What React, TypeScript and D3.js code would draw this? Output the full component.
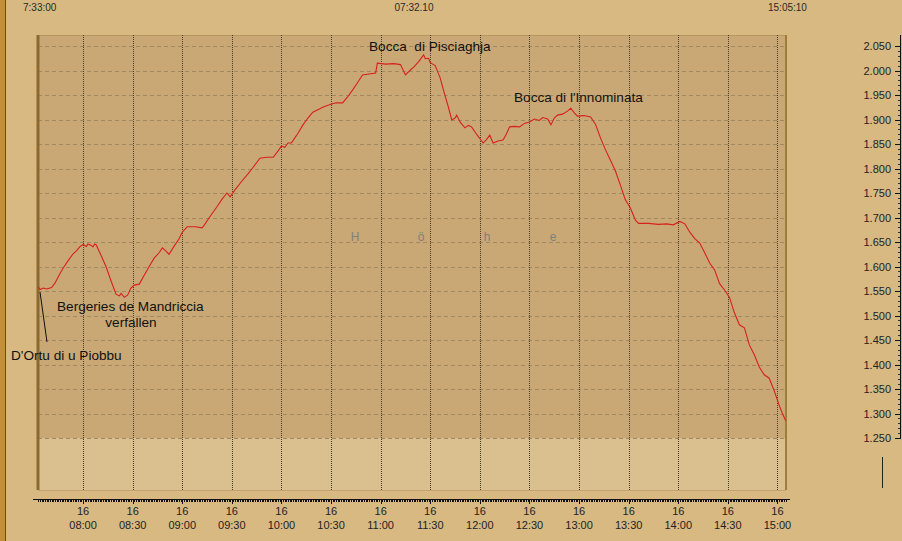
import React from 'react';
import * as d3 from 'd3';

// Elevation profile (m) over time of day
const times = [
  "07:33","07:34","07:36","07:38","07:41","07:43","07:46","07:48","07:51","07:54","07:56","07:58",
  "08:00","08:02","08:03","08:05","08:06","08:07","08:08","08:11","08:14","08:17","08:20","08:22",
  "08:23","08:25","08:27","08:29","08:31","08:34","08:37","08:40","08:43","08:46","08:48","08:50",
  "08:52","08:55","08:58","09:00","09:03","09:08","09:12","09:13","09:17","09:21","09:24","09:27",
  "09:29","09:32","09:36","09:40","09:43","09:47","09:51","09:55","09:58","10:00","10:02","10:04",
  "10:06","10:08","10:10","10:13","10:16","10:19","10:22","10:25","10:29","10:33","10:37","10:40",
  "10:43","10:46","10:49","10:53","10:57","10:58","11:03","11:08","11:12","11:15","11:18","11:20",
  "11:23","11:26","11:27","11:29","11:30","11:33","11:36","11:38","11:41","11:43","11:45","11:46",
  "11:48","11:51","11:53","11:55","11:58","12:02","12:04","12:06","12:08","12:11","12:14","12:16",
  "12:18","12:21","12:24","12:27","12:30","12:33","12:36","12:38","12:41","12:43","12:45","12:47",
  "12:50","12:53","12:55","12:57","12:59","13:03","13:07","13:10","13:13","13:16","13:19","13:22",
  "13:25","13:28","13:31","13:34","13:36","13:42","13:48","13:53","13:57","14:01","14:04","14:07",
  "14:10","14:13","14:16","14:19","14:22","14:25","14:28","14:31","14:34","14:37","14:40","14:43",
  "14:46","14:49","14:52","14:55","14:58","15:01","15:03","15:05"
];
const elevations = [
  1558,1553,1556,1554,1557,1566,1585,1597,1612,1626,1632,1640,
  1645,1641,1646,1643,1640,1646,1644,1622,1599,1570,1543,1540,
  1545,1537,1542,1556,1562,1564,1582,1600,1617,1628,1638,1632,
  1625,1641,1656,1670,1681,1681,1679,1683,1703,1722,1737,1750,
  1742,1757,1774,1790,1803,1821,1823,1823,1836,1846,1843,1852,
  1852,1862,1872,1889,1903,1915,1920,1925,1930,1934,1934,1946,
  1960,1975,1991,1993,1995,2015,2013,2014,2012,1991,2001,2007,
  2018,2032,2024,2025,2016,2010,1985,1960,1925,1899,1903,1909,
  1895,1883,1888,1885,1870,1852,1859,1868,1852,1856,1858,1870,
  1885,1886,1885,1892,1895,1901,1898,1904,1901,1889,1903,1909,
  1911,1917,1923,1914,1907,1908,1905,1890,1862,1838,1817,1795,
  1766,1736,1720,1695,1688,1688,1686,1687,1685,1692,1687,1670,
  1657,1648,1628,1607,1593,1565,1552,1537,1505,1481,1475,1440,
  1420,1395,1379,1372,1347,1317,1300,1285
];
const startTime = "07:33:00";
const endTime = "15:05:10";
const yTicks = d3.range(1250, 2051, 50);
const yMinorTicks = d3.range(1250, 2051, 10);
const headerLabels = ["7:33:00", "07:32.10", "15:05:10"];
const dayLabel = "16";
const watermark = ["H", "ö", "h", "e"];
const annotations = [
  { text: "Bocca  di Pisciaghja", x: 369, y: 51 },
  { text: "Bocca di l'Innominata", x: 514, y: 102 },
  { text: "Bergeries de Mandriccia", x: 57, y: 311 },
  { text: "D'Ortu di u Piobbu", x: 11, y: 360 },
];

const W = 902, H = 541;
const FONT = "'Liberation Sans', Arial, sans-serif";

export default function App() {
  const parseFull = d3.timeParse("%H:%M:%S");
  const t0 = parseFull(startTime)!;
  const t1 = parseFull(endTime)!;
  const data = times.map((t, i) => ({ t: parseFull(t + ":00")!, v: elevations[i] }));

  const plotL = 38, plotR = 786, plotT = 35, plotB = 490;
  const x = d3.scaleTime().domain([t0, t1]).range([38.4, 786]);
  const y = d3.scaleLinear().domain([1250, 2050]).range([438, 46]);

  const line = d3.line<{ t: Date; v: number }>().x(d => x(d.t)).y(d => y(d.v));

  const majorX = d3.timeMinute.every(30)!.range(t0, t1);
  const minorX = d3.timeSecond.every(450)!.range(t0, t1).filter(d => d.getMinutes() % 30 !== 0 || d.getSeconds() !== 0);
  const fmtT = d3.timeFormat("%H:%M");
  const loc = d3.formatLocale({ decimal: ",", thousands: ".", grouping: [3], currency: ["", "€"] });
  const fmtY = loc.format(",.0f");

  const axisY = 499;
  const rAxisX = 900;

  return (
    <svg width={W} height={H} style={{ position: 'absolute', left: 0, top: 0 }} fontFamily={FONT}>
      <rect x={0} y={0} width={W} height={H} fill="#d8b982" />
      {/* left wood strip */}
      <rect x={0} y={0} width={5} height={H} fill="#c48f3a" />
      <line x1={5.5} x2={5.5} y1={0} y2={H} stroke="#6b4a1c" strokeWidth={1} />

      {/* header labels */}
      <text x={23} y={11} fontSize={10} fill="#2a2a2a">{headerLabels[0]}</text>
      <text x={414} y={11} fontSize={10} fill="#2a2a2a" textAnchor="middle">{headerLabels[1]}</text>
      <text x={768} y={11} fontSize={10} fill="#2a2a2a">{headerLabels[2]}</text>

      {/* plot area */}
      <rect x={plotL} y={plotT} width={plotR - plotL} height={y(1250) - plotT} fill="#c9a876" />
      <rect x={plotL} y={y(1250)} width={plotR - plotL} height={plotB - y(1250)} fill="#dbc08f" />
      <line x1={plotL} x2={plotR} y1={plotT + 0.5} y2={plotT + 0.5} stroke="#b8975f" />
      <line x1={plotL} x2={plotR} y1={plotB + 0.5} y2={plotB + 0.5} stroke="#c4a46c" />

      {/* horizontal gridlines */}
      {yTicks.map(v => (
        <line key={'h' + v} x1={plotL} x2={plotR} y1={Math.round(y(v)) + 0.5} y2={Math.round(y(v)) + 0.5}
          stroke="#a08860" strokeWidth={1} strokeDasharray="4,3" />
      ))}
      {/* vertical gridlines */}
      {majorX.map(d => (
        <line key={'v' + d.getTime()} x1={Math.round(x(d)) + 0.5} x2={Math.round(x(d)) + 0.5} y1={plotT} y2={plotB}
          stroke="#4a3c22" strokeWidth={1} strokeDasharray="1,1" />
      ))}

      {/* watermark */}
      {watermark.map((c, i) => (
        <text key={'w' + i} x={355 + i * 66} y={241} fontSize={12} fill="#7f8078" textAnchor="middle">{c}</text>
      ))}

      {/* plot borders */}
      <line x1={plotL} x2={plotL} y1={plotT} y2={plotB} stroke="#8a6a2e" strokeWidth={3} />
      <line x1={plotR} x2={plotR} y1={plotT} y2={plotB} stroke="#a07c3c" strokeWidth={2} />

      {/* elevation line */}
      <path d={line(data) || ''} fill="none" stroke="#d8201c" strokeWidth={1.1} />

      {/* annotations */}
      {annotations.map((a, i) => (
        <text key={'a' + i} x={a.x} y={a.y} fontSize={13.6} fill="#111" style={{ whiteSpace: 'pre' }}>{a.text}</text>
      ))}
      <text x={131} y={327} fontSize={13.6} fill="#111" textAnchor="middle">verfallen</text>
      <line x1={40} y1={292} x2={47} y2={342} stroke="#111" strokeWidth={1} />

      {/* x axis */}
      <line x1={33} x2={790} y1={axisY + 0.5} y2={axisY + 0.5} stroke="#111" />
      {minorX.map(d => (
        <line key={'mx' + d.getTime()} x1={Math.round(x(d)) + 0.5} x2={Math.round(x(d)) + 0.5} y1={axisY} y2={axisY + 3} stroke="#111" />
      ))}
      {majorX.map(d => (
        <g key={'mj' + d.getTime()}>
          <line x1={Math.round(x(d)) + 0.5} x2={Math.round(x(d)) + 0.5} y1={axisY} y2={axisY + 5} stroke="#111" />
          <text x={x(d)} y={515} fontSize={11} fill="#222" textAnchor="middle">{dayLabel}</text>
          <text x={x(d)} y={529} fontSize={11} fill="#222" textAnchor="middle">{fmtT(d)}</text>
        </g>
      ))}

      {/* right y axis */}
      <line x1={rAxisX + 0.5} x2={rAxisX + 0.5} y1={plotT} y2={y(1250) + 1} stroke="#111" />
      {yMinorTicks.map(v => (
        <line key={'ym' + v} x1={rAxisX - 2} x2={rAxisX} y1={Math.round(y(v)) + 0.5} y2={Math.round(y(v)) + 0.5} stroke="#333" />
      ))}
      {yTicks.map(v => (
        <g key={'yt' + v}>
          <line x1={rAxisX - 5} x2={rAxisX} y1={Math.round(y(v)) + 0.5} y2={Math.round(y(v)) + 0.5} stroke="#111" />
          <text x={891} y={y(v) + 4} fontSize={11} fill="#222" textAnchor="end">{fmtY(v)}</text>
        </g>
      ))}
      <line x1={882.5} x2={882.5} y1={457} y2={488} stroke="#222" strokeWidth={1} />
    </svg>
  );
}
